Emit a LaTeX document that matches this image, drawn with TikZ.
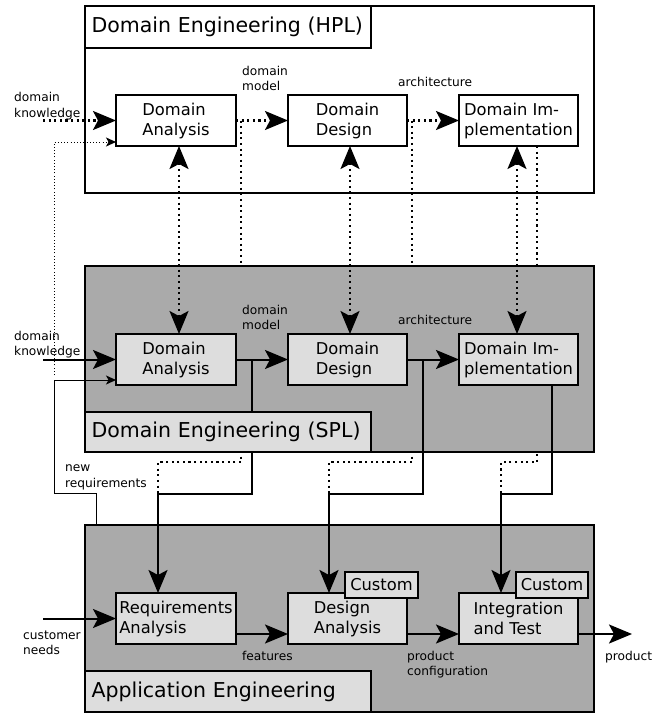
\documentclass[tikz,border=0pt]{standalone}
\usepackage{fontspec}
\setmainfont{DejaVu Sans}
\usetikzlibrary{arrows.meta,calc}
\definecolor{midgray}{RGB}{170,170,170}
\definecolor{boxgray}{RGB}{221,221,221}
\tikzset{
  frame/.style={draw, line width=2pt, anchor=north west, inner sep=0pt, outer sep=0pt, minimum width=509pt},
  titlebox/.style={draw, line width=2pt, anchor=north west, outer sep=0pt, inner xsep=6.5pt, inner ysep=0pt,
    text width=273pt, align=left, minimum height=41pt, font=\fontsize{20.5}{24}\selectfont},
  box/.style={draw, line width=2pt, anchor=north west, outer sep=0pt, inner sep=1pt,
    minimum width=120pt, minimum height=51pt, align=left, font=\fontsize{16.3}{20}\selectfont},
  custombox/.style={draw, line width=2pt, anchor=north west, outer sep=0pt, inner sep=1pt, fill=boxgray,
    minimum width=73pt, minimum height=26pt, font=\fontsize{16.3}{20}\selectfont},
  lbl/.style={anchor=base west, inner sep=0pt, align=left, font=\fontsize{12.2}{15.5}\selectfont},
  arr/.style={-{Stealth[length=23pt,width=19pt,inset=5pt]}},
  darr/.style={{Stealth[length=23pt,width=19pt,inset=5pt]}-{Stealth[length=23pt,width=19pt,inset=5pt]}},
  sarr/.style={-{Stealth[length=10pt,width=9pt,inset=2.5pt]}},
  solidline/.style={line width=2pt},
  thinline/.style={line width=1pt},
  dotline/.style={line width=2.1pt, dash pattern=on 2.1pt off 3.5pt},
  thindot/.style={line width=1pt, dash pattern=on 1pt off 2.2pt},
}
\begin{document}
\begin{tikzpicture}[x=1pt,y=-1pt]
\useasboundingbox (0,0) rectangle (671,713);
% ---------- HPL ----------
\node[frame, fill=white, minimum height=187pt] (hpl) at (85,6) {};
\node[titlebox, fill=white, minimum height=42pt] (hplt) at (85,6) {Domain Engineering (HPL)};
\node[box, fill=white] (hda) at (116,95) {Domain\\Analysis};
\node[box, fill=white, minimum width=119pt] (hdd) at (288,95) {Domain\\Design};
\node[box, fill=white, minimum width=119pt] (hdi) at (459,95) {Domain Im-\\plementation};

\coordinate (dk1) at (43,120.5);
\draw[dotline, arr] (dk1) -- (hda.west);
\draw[dotline, arr] (hda.east) -- (hdd.west);
\draw[dotline, arr] (hdd.east) -- (hdi.west);

% dotted branches going down (behind SPL)
\coordinate (r1) at (158,494);
\coordinate (r2) at (329,494);
\coordinate (r3) at (501,494);
\coordinate (h1) at (241,120.5);
\coordinate (h2) at (412,120.5);
\coordinate (h3) at (537,146);
\coordinate (h1b) at (241,462);
\coordinate (h2b) at (412,462);
\coordinate (h3b) at (537,462);
\draw[dotline] (h1) -- (h1b) -| (r1);
\draw[dotline] (h2) -- (h2b) -| (r2);
\draw[dotline] (h3) -- (h3b) -| (r3);

% thin dotted new requirements (HPL)
\coordinate (nq1) at (54,375);
\draw[thindot, sarr] (nq1) |- ($(hda.south west)+(0,-4)$);

% ---------- SPL and App frames ----------
\node[frame, fill=midgray, minimum height=186pt] (spl) at (85,266) {};
\node[frame, fill=midgray, minimum height=187pt] (app) at (85,525) {};

\node[box, fill=boxgray] (sda) at (116,334) {Domain\\Analysis};
\node[box, fill=boxgray, minimum width=119pt] (sdd) at (288,334) {Domain\\Design};
\node[box, fill=boxgray, minimum width=119pt] (sdi) at (459,334) {Domain Im-\\plementation};

\node[box, fill=boxgray] (ra) at (116,593) {Requirements\\Analysis};
\node[box, fill=boxgray, minimum width=119pt] (dsa) at (288,593) {Design\\Analysis};
\node[box, fill=boxgray, minimum width=119pt] (it) at (459,593) {Integration\\and Test};

% solid branches down to application engineering
\coordinate (s1) at (252,359.5);
\coordinate (s2) at (423,359.5);
\coordinate (s3) at (552,385);
\draw[solidline, arr] (s1) |- (r1) -- (r1 |- ra.north);
\draw[solidline, arr] (s2) |- (r2) -- (r2 |- dsa.north);
\draw[solidline, arr] (s3) |- (r3) -- (r3 |- it.north);

% new requirements loop
\coordinate (l1) at (96,525);
\coordinate (l2) at (54,493);
\draw[thinline, sarr] (l1) |- (l2) |- ($(sda.south west)+(0,-5)$);

% title boxes
\node[titlebox, fill=boxgray, minimum height=40pt] (splt) at (85,412) {Domain Engineering (SPL)};
\node[titlebox, fill=boxgray] (appt) at (85,671) {Application Engineering};

% custom tags
\node[custombox] (c1) at (345,572) {Custom};
\node[custombox, minimum width=72pt] (c2) at (516,572) {Custom};

% SPL arrows
\coordinate (dk2) at (43,359.5);
\draw[solidline, arr] (dk2) -- (sda.west);
\draw[solidline, arr] (sda.east) -- (sdd.west);
\draw[solidline, arr] (sdd.east) -- (sdi.west);

% HPL <-> SPL dotted
\draw[dotline, darr] ($(hda.south)+(3,0)$) -- ($(sda.north)+(3,0)$);
\draw[dotline, darr] ($(hdd.south)+(2.5,0)$) -- ($(sdd.north)+(2.5,0)$);
\draw[dotline, darr] ($(hdi.south)+(-1.5,0)$) -- ($(sdi.north)+(-1.5,0)$);

% App arrows
\coordinate (cn) at (43,618.5);
\coordinate (prod) at (632,634);
\draw[solidline, arr] (cn) -- (ra.west);
\draw[solidline, arr] ($(ra.east)+(0,15.5)$) -- ($(dsa.west)+(0,15.5)$);
\draw[solidline, arr] ($(dsa.east)+(0,15.5)$) -- ($(it.west)+(0,15.5)$);
\draw[solidline, arr] ($(it.east)+(0,15.5)$) -- (prod);

% labels (base = baseline of last line)
\node[lbl] (lk1) at (14,117) {domain\\knowledge};
\node[lbl] (lm1) at (242,90.5) {domain\\model};
\node[lbl] (la1) at (398,86) {architecture};
\node[lbl] (lk2) at (14,355.5) {domain\\knowledge};
\node[lbl] (lm2) at (242,329.5) {domain\\model};
\node[lbl] (la2) at (398,324) {architecture};
\node[lbl] (lnr) at (65,487) {new\\requirements};
\node[lbl] (lcn) at (23,654.5) {customer\\needs};
\node[lbl] (lft) at (242,660) {features};
\node[lbl] (lpc) at (407,675.5) {product\\configuration};
\node[lbl] (lpr) at (605,660) {product};
\end{tikzpicture}
\end{document}
